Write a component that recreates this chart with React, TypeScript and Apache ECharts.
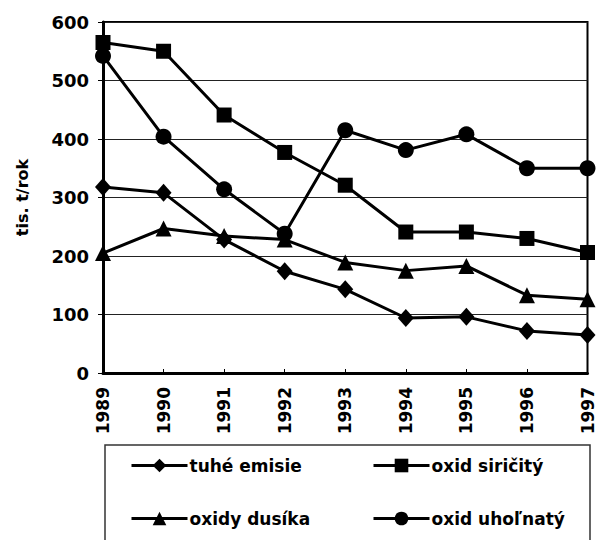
import React, { useEffect, useRef } from "react";
import * as echarts from "echarts";

const years = ["1989", "1990", "1991", "1992", "1993", "1994", "1995", "1996", "1997"];
const tuheEmisie = [318, 308, 228, 174, 143, 94, 96, 72, 65];
const oxidSiricity = [565, 550, 441, 377, 321, 241, 241, 230, 206];
const oxidyDusika = [205, 247, 234, 228, 189, 175, 183, 133, 126];
const oxidUholnaty = [542, 404, 314, 238, 415, 381, 408, 350, 350];
const yTicks = { min: 0, max: 600, interval: 100 };

const FONT = "DejaVu Sans";

export default function App() {
  const ref = useRef<HTMLDivElement>(null);
  useEffect(() => {
    if (!ref.current) return;
    const chart = echarts.init(ref.current, null, { renderer: "svg" });
    const mkSeries = (name: string, data: number[], symbol: string, size: number | number[]) => ({
      name,
      type: "line",
      data,
      symbol,
      symbolSize: size,
      showSymbol: true,
      lineStyle: { color: "#000", width: 3 },
      itemStyle: { color: "#000" },
      emphasis: { disabled: true },
    });
    const legendBase = {
      itemWidth: 56,
      itemHeight: 17,
      itemGap: 0,
      lineStyle: { width: 3, color: "#000" },
      textStyle: { color: "#000", fontFamily: FONT, fontSize: 17, fontWeight: "bold", padding: [0, 0, 0, -3] },
      padding: 0,
    };
    chart.setOption({
      animation: false,
      backgroundColor: "#fff",
      grid: { left: 103, right: 7, top: 22, bottom: 167, show: true, borderColor: "#000", borderWidth: 2, backgroundColor: "transparent" },
      xAxis: {
        type: "category",
        data: years,
        boundaryGap: false,
        axisLine: { lineStyle: { color: "#000", width: 3 } },
        axisTick: { show: true, inside: true, length: 4, lineStyle: { color: "#000", width: 1 } },
        axisLabel: { rotate: 90, margin: 14, color: "#000", fontFamily: FONT, fontSize: 17, fontWeight: "bold", interval: 0 },
        splitLine: { show: false },
      },
      yAxis: {
        type: "value",
        min: yTicks.min,
        max: yTicks.max,
        interval: yTicks.interval,
        name: "tis. t/rok",
        nameLocation: "middle",
        nameGap: 73,
        nameTextStyle: { color: "#000", fontFamily: FONT, fontSize: 16, fontWeight: "bold" },
        axisLine: { show: true, lineStyle: { color: "#000", width: 3 } },
        axisTick: { show: true, length: 5, lineStyle: { color: "#000", width: 1 } },
        axisLabel: { margin: 14, color: "#000", fontFamily: FONT, fontSize: 18, fontWeight: "bold" },
        splitLine: { show: true, lineStyle: { color: "#222", width: 1 } },
      },
      legend: [
        { ...legendBase, data: ["tuhé emisie"], left: 130, top: 457 },
        { ...legendBase, data: ["oxid siričitý"], left: 372, top: 457 },
        { ...legendBase, data: ["oxidy dusíka"], left: 130, top: 510 },
        { ...legendBase, data: ["oxid uhoľnatý"], left: 372, top: 510 },
      ],
      graphic: [
        {
          type: "rect",
          shape: { x: 105, y: 445, width: 485, height: 130 },
          style: { fill: "none", stroke: "#333", lineWidth: 1.5 },
          silent: true,
        },
      ],
      series: [
        mkSeries("tuhé emisie", tuheEmisie, "diamond", [16, 18]),
        mkSeries("oxid siričitý", oxidSiricity, "rect", 15),
        mkSeries("oxidy dusíka", oxidyDusika, "triangle", 16),
        mkSeries("oxid uhoľnatý", oxidUholnaty, "circle", 16),
      ],
    });
    return () => chart.dispose();
  }, []);
  return <div ref={ref} style={{ width: 596, height: 540, position: "absolute", left: 0, top: 0 }} />;
}
